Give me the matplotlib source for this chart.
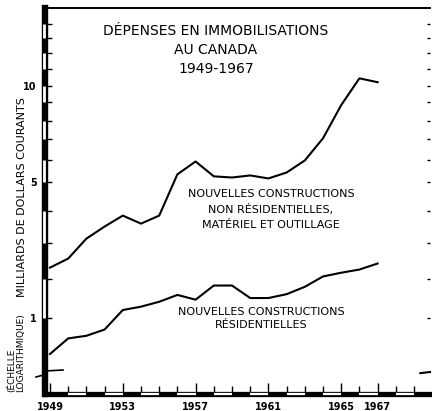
import numpy as np
import matplotlib
matplotlib.use("Agg")
import matplotlib.pyplot as plt
from matplotlib.ticker import FixedLocator, NullFormatter
from matplotlib.transforms import blended_transform_factory

# Dépenses en immobilisations au Canada, milliards de dollars courants
years = list(range(1949, 1968))
non_resid = [2.27, 2.52, 3.13, 3.48, 3.83, 3.57, 3.83, 5.35, 5.95, 5.26,
             5.21, 5.30, 5.17, 5.43, 6.00, 7.05, 8.84, 10.45, 10.23]
resid = [0.72, 0.83, 0.85, 0.90, 1.15, 1.22, 1.33, 1.50, 1.38, 1.77,
         1.77, 1.42, 1.42, 1.52, 1.73, 2.05, 2.14, 2.22, 2.38]

year_labels = [1949, 1953, 1957, 1961, 1965, 1967]
y_labels = [1, 5, 10]
y_minor = [2, 3, 4, 6, 7, 8, 9, 11, 12, 13, 14]

# printed "log" scale of the original is hand drawn: value -> fraction of axis height
scale_vals = [0.5, 1, 2, 3, 4, 5, 6, 7, 8, 9, 10, 11, 12, 13, 14, 15]
scale_pos = [0.0, 0.197, 0.299, 0.390, 0.475, 0.548, 0.605, 0.660, 0.706,
             0.756, 0.797, 0.842, 0.883, 0.922, 0.958, 1.0]
LOGV = np.log10(scale_vals)
POS = np.array(scale_pos)
S0 = (POS[1] - POS[0]) / (LOGV[1] - LOGV[0])
S1 = (POS[-1] - POS[-2]) / (LOGV[-1] - LOGV[-2])


def fwd(v):
    lv = np.log10(np.clip(np.asarray(v, dtype=float), 1e-6, None))
    out = np.interp(lv, LOGV, POS)
    out = np.where(lv < LOGV[0], POS[0] + (lv - LOGV[0]) * S0, out)
    out = np.where(lv > LOGV[-1], POS[-1] + (lv - LOGV[-1]) * S1, out)
    return out


def inv(u):
    u = np.asarray(u, dtype=float)
    lv = np.interp(u, POS, LOGV)
    lv = np.where(u < POS[0], LOGV[0] + (u - POS[0]) / S0, lv)
    lv = np.where(u > POS[-1], LOGV[-1] + (u - POS[-1]) / S1, lv)
    return 10 ** lv


W, H = 432, 411
fig = plt.figure(figsize=(W / 100, H / 100), dpi=100)
ax = fig.add_axes([45 / W, 1 - 394 / H, 385 / W, 386 / H])

ax.plot(years, non_resid, color="black", lw=1.5, solid_joinstyle="round")
ax.plot(years, resid, color="black", lw=1.5, solid_joinstyle="round")

ax.set_yscale("function", functions=(fwd, inv))
ax.set_ylim(0.5, 15)
ax.set_xlim(1949 - 5 / 18.2, 1949 + 380 / 18.2)

# spines
ax.spines["right"].set_visible(False)
ax.spines["left"].set_linewidth(4.6)
ax.spines["bottom"].set_linewidth(3.8)
ax.spines["top"].set_linewidth(1.4)

# ticks
ax.yaxis.set_major_locator(FixedLocator(y_labels))
ax.yaxis.set_minor_locator(FixedLocator(y_minor))
ax.yaxis.set_minor_formatter(NullFormatter())
ax.set_yticklabels([str(v) for v in y_labels])
ax.set_xticks(year_labels)
ax.set_xticklabels([str(y) for y in year_labels])
ax.xaxis.set_minor_locator(FixedLocator(range(1950, 1970)))
ax.tick_params(axis="y", which="both", direction="in", length=5, width=1,
               right=True, labelsize=7, pad=6)
ax.tick_params(axis="x", which="major", direction="in", length=8, width=1,
               labelsize=7, pad=6)
ax.tick_params(axis="x", which="minor", direction="in", length=6, width=1)
for lab in ax.get_xticklabels() + ax.get_yticklabels():
    lab.set_fontweight("bold")
# shorter ticks on the right-hand edge
for t in ax.yaxis.get_major_ticks() + ax.yaxis.get_minor_ticks():
    t.tick2line.set_markersize(2.5)

# alternating white segments in the thick scale bars
ytr = blended_transform_factory(ax.transAxes, ax.transData)
for lo in range(1, 14, 2):
    ax.plot([-0.0015, -0.0015], [lo, lo + 1], transform=ytr, color="white",
            lw=2.0, solid_capstyle="butt", clip_on=False, zorder=5)
xtr = blended_transform_factory(ax.transData, ax.transAxes)
for lo in range(1950, 1969, 2):
    ax.plot([lo, lo + 1], [0, 0], transform=xtr, color="white", lw=1.6,
            solid_capstyle="butt", clip_on=False, zorder=5)

# axis breaks
bx = [(36 - 45) / 385, (47 - 45) / 385, (45 - 45) / 385, (63 - 45) / 385]
by = [(394 - 377) / 386, (394 - 374) / 386, (394 - 371) / 386, (394 - 370) / 386]
ax.plot(bx, by, transform=ax.transAxes, color="black", lw=1.2, clip_on=False, zorder=6)
ax.plot([0.975, 1.0], [0.054, 0.057], transform=ax.transAxes, color="black",
        lw=1.5, clip_on=False)

# texts
ax.text(0.444, 0.891, "DÉPENSES EN IMMOBILISATIONS\nAU CANADA\n1949-1967",
        transform=ax.transAxes, ha="center", va="center", fontsize=10,
        linespacing=1.45)
ax.text(0.587, 0.478, "NOUVELLES CONSTRUCTIONS\nNON RÉSIDENTIELLES,\nMATÉRIEL ET OUTILLAGE",
        transform=ax.transAxes, ha="center", va="center", fontsize=8,
        linespacing=1.6)
ax.text(0.561, 0.195, "NOUVELLES CONSTRUCTIONS\nRÉSIDENTIELLES",
        transform=ax.transAxes, ha="center", va="center", fontsize=8,
        linespacing=1.4)

fig.text(16 / W, 1 - 392 / H, "(ÉCHELLE\nLOGARITHMIQUE)", rotation=90,
         ha="center", va="bottom", fontsize=6.5, multialignment="left",
         linespacing=1.05)
fig.text(22 / W, 1 - 297 / H, "MILLIARDS DE DOLLARS COURANTS", rotation=90,
         ha="center", va="bottom", fontsize=8)

fig.savefig("out.png", dpi=100)
